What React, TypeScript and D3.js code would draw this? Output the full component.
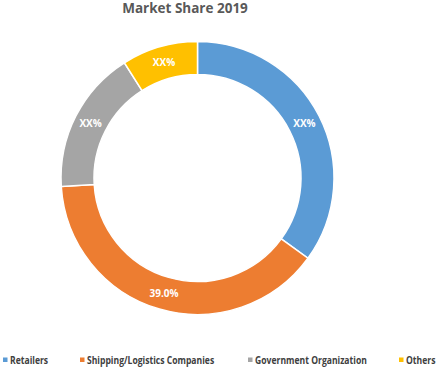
import React from "react";
import * as d3 from "d3";

const categories = ["Retailers", "Shipping/Logistics Companies", "Government Organization", "Others"];
const values = [35, 39, 17, 9];
const labels = ["XX%", "39.0%", "XX%", "XX%"];
const colors = ["#5B9BD5", "#ED7D31", "#A5A5A5", "#FFC000"];
const legendX = [3, 80, 248, 399];

export default function App() {
  const W = 437, H = 367;
  const cx = 197.5, cy = 178;
  const outerR = 136.5, innerR = 103.5;
  const pie = d3.pie<number>().sort(null).value((d) => d);
  const arcs = pie(values);
  const arc = d3.arc<d3.PieArcDatum<number>>().innerRadius(innerR).outerRadius(outerR);
  const labelArc = d3.arc<d3.PieArcDatum<number>>().innerRadius(120).outerRadius(120);
  const font = "'Open Sans', 'Liberation Sans', sans-serif";
  return (
    <svg width={W} height={H} style={{ position: "absolute", left: 0, top: 0 }} fontFamily={font}>
      <rect width={W} height={H} fill="#fff" />
      <text x={185} y={12.5} textAnchor="middle" fontSize={13.5} fontWeight="bold" fill="#595959">
        Market Share 2019
      </text>
      <g transform={`translate(${cx},${cy})`}>
        {arcs.map((a, i) => (
          <path key={i} d={arc(a) || ""} fill={colors[i]} stroke="#fff" strokeWidth={1.5} />
        ))}
        {arcs.map((a, i) => {
          const [x, y] = labelArc.centroid(a);
          return (
            <text key={"l" + i} x={x} y={y} dy="0.35em" textAnchor="middle" fontSize={10} fontWeight="bold" fill="#fff">
              {labels[i]}
            </text>
          );
        })}
      </g>
      {categories.map((c, i) => (
        <g key={c}>
          <rect x={legendX[i]} y={357.5} width={4.5} height={4.5} fill={colors[i]} />
          <g transform={`translate(${legendX[i] + 7},360) scale(0.86,1)`}>
            <text x={0} y={0} dy="0.35em" fontSize={10} fontWeight="bold" fill="#404040">
              {c}
            </text>
          </g>
        </g>
      ))}
    </svg>
  );
}
